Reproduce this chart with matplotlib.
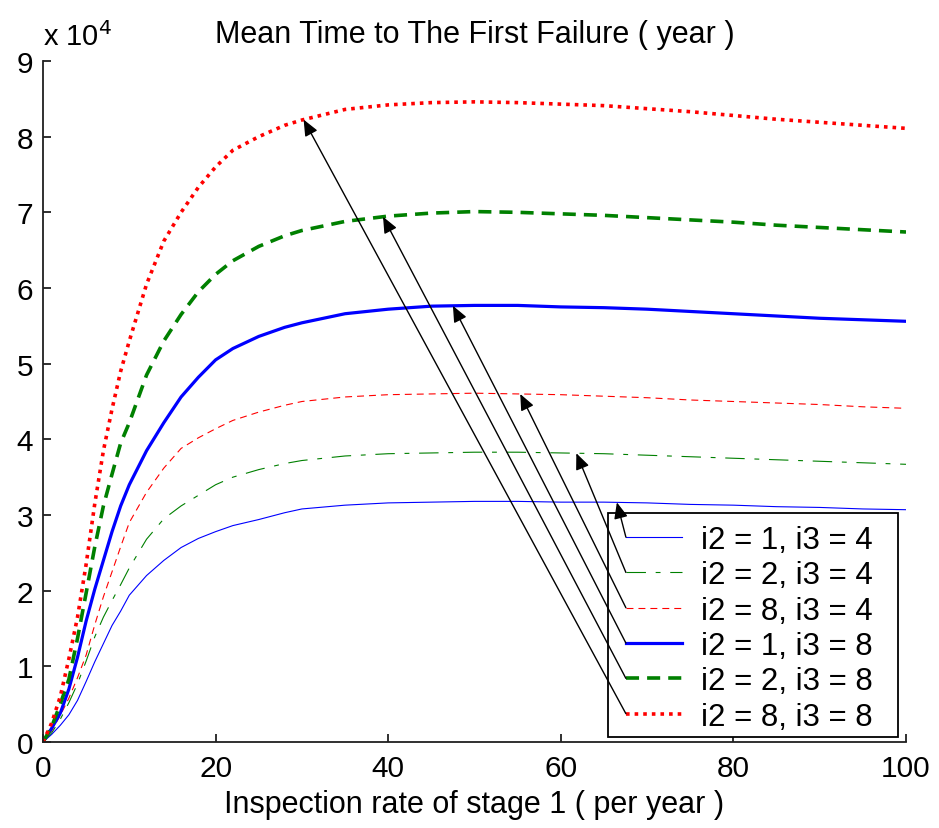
import numpy as np
import matplotlib

matplotlib.use("Agg")
import matplotlib.pyplot as plt
from matplotlib.patches import Rectangle

plt.rcParams["font.family"] = ["Liberation Sans", "DejaVu Sans"]
plt.rcParams["lines.scale_dashes"] = False

# inspection rate of stage 1 (per year)
rate = [0, 1, 2, 3, 4, 5, 6, 7, 8, 9, 10, 12, 14, 16, 18, 20, 22, 25, 28, 30,
        35, 40, 45, 50, 55, 60, 65, 70, 75, 80, 85, 90, 95, 100]

# mean time to first failure, in units of 1e4 years
mttf_i2_1_i3_4 = [0, 0.10, 0.22, 0.36, 0.55, 0.80, 1.06, 1.30, 1.54, 1.73, 1.94, 2.20,
                  2.40, 2.57, 2.69, 2.78, 2.86, 2.94, 3.03, 3.08, 3.13, 3.16, 3.17, 3.18,
                  3.18, 3.17, 3.17, 3.16, 3.14, 3.13, 3.11, 3.10, 3.08, 3.07]
mttf_i2_2_i3_4 = [0, 0.12, 0.30, 0.52, 0.77, 1.07, 1.39, 1.65, 1.87, 2.08, 2.30, 2.68,
                  2.95, 3.12, 3.26, 3.40, 3.50, 3.60, 3.68, 3.72, 3.78, 3.81, 3.82, 3.83,
                  3.83, 3.82, 3.81, 3.79, 3.77, 3.75, 3.73, 3.71, 3.69, 3.67]
mttf_i2_8_i3_4 = [0, 0.15, 0.35, 0.58, 0.85, 1.15, 1.55, 1.92, 2.25, 2.58, 2.90, 3.30,
                  3.62, 3.88, 4.02, 4.14, 4.25, 4.36, 4.45, 4.50, 4.56, 4.59, 4.60, 4.61,
                  4.60, 4.59, 4.57, 4.55, 4.52, 4.50, 4.48, 4.46, 4.43, 4.41]
mttf_i2_1_i3_8 = [0, 0.18, 0.38, 0.70, 1.12, 1.60, 2.02, 2.40, 2.78, 3.12, 3.40, 3.85,
                  4.22, 4.56, 4.82, 5.05, 5.20, 5.36, 5.48, 5.54, 5.66, 5.72, 5.76, 5.77,
                  5.77, 5.75, 5.74, 5.72, 5.69, 5.66, 5.63, 5.60, 5.58, 5.56]
mttf_i2_2_i3_8 = [0, 0.20, 0.50, 0.83, 1.37, 1.97, 2.58, 3.12, 3.54, 3.95, 4.22, 4.85,
                  5.30, 5.65, 5.95, 6.18, 6.36, 6.55, 6.69, 6.76, 6.88, 6.95, 6.99, 7.01,
                  7.00, 6.98, 6.96, 6.93, 6.90, 6.87, 6.83, 6.80, 6.77, 6.74]
mttf_i2_8_i3_8 = [0, 0.25, 0.60, 1.10, 1.65, 2.35, 3.15, 3.85, 4.40, 4.90, 5.30, 6.05,
                  6.62, 7.00, 7.33, 7.60, 7.82, 8.00, 8.15, 8.22, 8.36, 8.42, 8.45, 8.46,
                  8.45, 8.43, 8.41, 8.37, 8.33, 8.28, 8.23, 8.19, 8.15, 8.11]

labels = ["i2 = 1, i3 = 4", "i2 = 2, i3 = 4", "i2 = 8, i3 = 4",
          "i2 = 1, i3 = 8", "i2 = 2, i3 = 8", "i2 = 8, i3 = 8"]
series = [mttf_i2_1_i3_4, mttf_i2_2_i3_4, mttf_i2_8_i3_4,
          mttf_i2_1_i3_8, mttf_i2_2_i3_8, mttf_i2_8_i3_8]
# x position where each legend arrow lands on its curve
arrow_at = [66.5, 61.8, 55.3, 47.5, 39.4, 30.2]

styles = [
    dict(color="#0000ff", lw=0.8, ls="-"),
    dict(color="#008000", lw=0.8, dashes=(14, 7, 3.5, 7)),
    dict(color="#ff0000", lw=0.8, dashes=(5, 3.6)),
    dict(color="#0000ff", lw=2.3, ls="-"),
    dict(color="#008000", lw=2.6, dashes=(9.4, 5.8)),
    dict(color="#ff0000", lw=2.6, dashes=(2.6, 3.6)),
]

fig = plt.figure(figsize=(9.39, 8.29), dpi=100)
ax = fig.add_axes([43 / 939, 86 / 829, 863 / 939, 681 / 829])

handles = []
for vals, lab, st in zip(series, labels, styles):
    h, = ax.plot(rate, vals, label=lab, **st)
    handles.append(h)

ax.set_xlim(0, 100)
ax.set_ylim(0, 9)
ax.set_xticks(range(0, 101, 20))
ax.set_yticks(range(0, 10))
for side in ("top", "right"):
    ax.spines[side].set_visible(False)
for side in ("left", "bottom"):
    ax.spines[side].set_linewidth(1.3)
    ax.spines[side].set_color("#202020")
ax.tick_params(direction="in", length=6, width=1.3, color="#202020",
               labelsize=21.5, pad=7)
ax.tick_params(axis="x", pad=9)

ax.set_title("Mean Time to The First Failure ( year )", fontsize=22, pad=14)
ax.set_xlabel("Inspection rate of stage 1 ( per year )", fontsize=22, labelpad=5)
ax.text(0.0, 1.015, r"x 10$^4$", transform=ax.transAxes, fontsize=21,
        ha="left", va="bottom")

# legend without its own frame; a wider box is drawn round it below
leg = ax.legend(handles=handles, loc="lower right",
                bbox_to_anchor=(0.9722, 0.0015), borderaxespad=0,
                fontsize=22.5, handlelength=1.8, handletextpad=0.6,
                labelspacing=0.17, borderpad=0.3, frameon=False)

fig.canvas.draw()
renderer = fig.canvas.get_renderer()
lb = leg.get_window_extent(renderer)
box = Rectangle((lb.x0 - 9, lb.y0 + 4), lb.width + 25, lb.height - 1,
                transform=None, facecolor="white", edgecolor="black",
                lw=1.3, zorder=4.9)
ax.add_artist(box)

# arrows from each legend entry to its curve
inv = ax.transData.inverted()
for line, vals, xa in zip(leg.get_lines(), series, arrow_at):
    bb = line.get_window_extent(renderer)
    tail = inv.transform((bb.x0, (bb.y0 + bb.y1) / 2))
    head = (xa, np.interp(xa, rate, vals))
    ax.annotate("", xy=head, xytext=tail, zorder=6,
                arrowprops=dict(arrowstyle="-|>,head_length=0.7,head_width=0.3",
                                color="black", lw=1.0, mutation_scale=14,
                                shrinkA=0, shrinkB=0))

fig.savefig("out.png", dpi=100)
